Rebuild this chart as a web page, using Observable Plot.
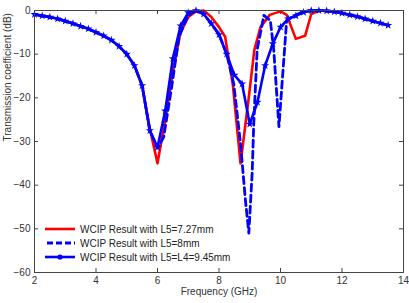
<!DOCTYPE html>
<html><head>
<meta charset="utf-8">
<script src="https://cdn.jsdelivr.net/npm/d3@7"></script>
<script src="https://cdn.jsdelivr.net/npm/@observablehq/plot@0.6"></script>
<style>
body{margin:0;background:#fff}
#wrap{position:relative;width:409px;height:303px;font-family:"Liberation Sans",Arial,sans-serif}
#legend{position:absolute;left:44px;top:222px;font-size:10px;color:#222}
.row{display:flex;align-items:center;height:14px}
.row svg{margin-right:3px}
</style>
</head><body><div id="wrap"></div>
<script>
const xTicks = [2,4,6,8,10,12,14];
const yTicks = [0,-10,-20,-30,-40,-50,-60];
const seriesNames = ["WCIP Result with L5=7.27mm","WCIP Result with L5=8mm","WCIP Result with L5=L4=9.45mm"];

const solidF = [2,2.25,2.5,2.75,3,3.25,3.5,3.75,4,4.25,4.5,4.75,5,5.25,5.5,5.75,6,6.25,6.5,6.75,7,7.25,7.5,7.75,8,8.25,8.5,8.75,9,9.25,9.5,9.75,10,10.25,10.5,10.75,11,11.25,11.5,11.75,12,12.25,12.5,12.75,13,13.25,13.5];
const solidDB = [-0.9,-1.2,-1.5,-1.9,-2.4,-3,-3.6,-4.2,-5,-5.8,-6.8,-8.2,-10,-12.6,-17.2,-27.5,-31.3,-23,-11,-3.5,-0.5,0,-0.8,-3,-5.5,-10,-14.8,-16.8,-26,-21,-12.6,-7.6,-3.8,-1.9,-1.2,-0.4,0,0,-0.1,-0.3,-0.6,-1,-1.4,-1.9,-2.4,-2.9,-3.4];

const redF = [2,2.25,2.5,2.75,3,3.25,3.5,3.75,4,4.25,4.5,4.75,5,5.25,5.5,5.75,6,6.25,6.5,6.75,7,7.25,7.5,7.75,8,8.2,8.45,8.7,8.95,9.15,9.35,9.65,10,10.2,10.5,10.8,11,11.25,11.5,11.75,12,12.25,12.5,12.75,13,13.25,13.5];
const redDB = [-0.9,-1.2,-1.5,-1.9,-2.4,-3,-3.6,-4.2,-5,-5.8,-6.8,-8.2,-10,-12.6,-17.2,-27,-35,-25,-14,-5,-1.5,-0.2,0,-1.5,-3.8,-6,-17,-35,-21,-9,-3.8,-1,-0.2,-1,-6.5,-5.8,-0.8,0,-0.1,-0.3,-0.6,-1,-1.4,-1.9,-2.4,-2.9,-3.4];

const dashF = [2,2.25,2.5,2.75,3,3.25,3.5,3.75,4,4.25,4.5,4.75,5,5.25,5.5,5.75,6,6.2,6.45,6.7,7,7.25,7.5,7.75,8,8.25,8.48,8.7,8.86,8.97,9.08,9.13,9.24,9.46,9.67,9.78,9.95,10.05,10.2,10.5,10.75,11,11.25,11.5,11.75,12,12.25,12.5,12.75,13,13.25,13.5];
const dashDB = [-0.9,-1.2,-1.5,-1.9,-2.4,-3,-3.6,-4.2,-5,-5.8,-6.8,-8.2,-10,-12.6,-17.2,-27.5,-31.5,-29,-18,-6,-1,0,-0.8,-3,-5.5,-10,-16.8,-30.5,-43.5,-51,-37,-26,-9,-1.1,-2.3,-9,-26.6,-16.8,-2.3,-1,-0.3,0,0,-0.1,-0.3,-0.6,-1,-1.4,-1.9,-2.4,-2.9,-3.4];

const red = redF.map((f,i)=>({f, v: redDB[i]}));
const dash = dashF.map((f,i)=>({f, v: dashDB[i]}));
const solid = solidF.map((f,i)=>({f, v: solidDB[i]}));

const W = 409, H = 303, mL = 34, mR = 6, mT = 10, mB = 31;
const pw = W - mL - mR, ph = H - mT - mB, tk = 4;

const chart = Plot.plot({
  width: W, height: H, marginLeft: mL, marginRight: mR, marginTop: mT, marginBottom: mB,
  style: {fontFamily: "Liberation Sans, Arial, sans-serif", fontSize: "10px", background: "white", color: "#333"},
  x: {domain: [2, 14]},
  y: {domain: [-60, 0]},
  marks: [
    Plot.ruleX(xTicks, {x: d => d, insetTop: ph - tk, stroke: "#444"}),
    Plot.ruleX(xTicks, {x: d => d, insetBottom: ph - tk, stroke: "#444"}),
    Plot.ruleY(yTicks, {y: d => d, insetRight: pw - tk, stroke: "#444"}),
    Plot.ruleY(yTicks, {y: d => d, insetLeft: pw - tk, stroke: "#444"}),
    Plot.axisX(xTicks, {anchor: "bottom", tickSize: 0, tickPadding: 4, label: null}),
    Plot.axisY(yTicks, {anchor: "left", tickSize: 0, tickPadding: 4, label: null}),
    Plot.text(["Frequency (GHz)"], {frameAnchor: "bottom", dy: 22, fontSize: 10, fill: "#333"}),
    Plot.text(["Transmission coefficient (dB)"], {frameAnchor: "left", dx: -27, rotate: -90, fontSize: 10, fill: "#333"}),
    Plot.line(red, {x: "f", y: "v", stroke: "#ff0000", strokeWidth: 2.6}),
    Plot.line(dash, {x: "f", y: "v", stroke: "#0000ff", strokeWidth: 2.8, strokeDasharray: "7,4"}),
    Plot.line(solid, {x: "f", y: "v", stroke: "#0000ff", strokeWidth: 2.6}),
    Plot.dot(solid, {x: "f", y: "v", r: 2.6, fill: "#0000ff", symbol: "star"}),
    Plot.frame({stroke: "#444"})
  ]
});
const wrap = document.getElementById("wrap");
wrap.appendChild(chart);

const leg = document.createElement("div");
leg.id = "legend";
const samples = [
  `<line x1="1" x2="31" y1="5" y2="5" stroke="#ff0000" stroke-width="2.6"/>`,
  `<line x1="3" x2="31" y1="5" y2="5" stroke="#0000ff" stroke-width="2.8" stroke-dasharray="6,3"/>`,
  `<line x1="1" x2="31" y1="5" y2="5" stroke="#0000ff" stroke-width="2.6"/><circle cx="16" cy="5" r="2.6" fill="#0000ff"/>`
];
leg.innerHTML = seriesNames.map((n,i)=>`<div class="row"><svg width="33" height="10">${samples[i]}</svg><span>${n}</span></div>`).join("");
wrap.appendChild(leg);
</script>
</body></html>
